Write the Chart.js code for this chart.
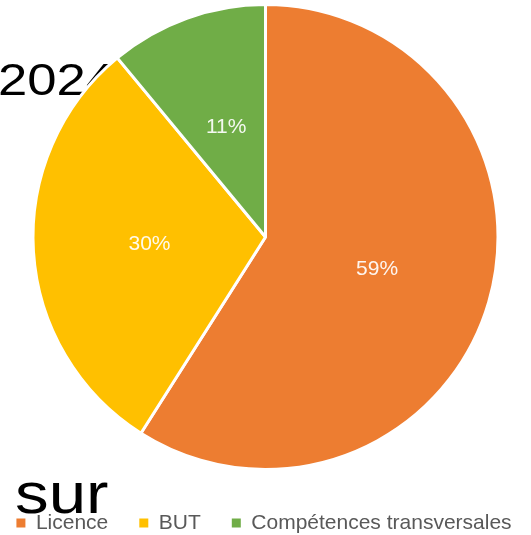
<!DOCTYPE html>
<html>
<head>
<meta charset="utf-8">
<script src="https://cdn.jsdelivr.net/npm/chart.js@4"></script>
<style>
  html, body { margin: 0; padding: 0; background: #fff; }
  #wrap { position: relative; width: 531px; height: 535px; }
</style>
</head>
<body>
<div id="wrap"><canvas id="pieChart" width="531" height="535"></canvas></div>
<script>
const categories = ['Licence', 'BUT', 'Compétences transversales'];
const shares = [59, 30, 11];
const sliceColors = ['#ED7D31', '#FFC000', '#70AD47'];

// slide text that sits around the chart in the screenshot
const backText = { text: '2024', x: -2, y: 95, size: 45, stretch: 1.17 };
const frontText = { text: 'sur', x: 15, y: 513, size: 58, stretch: 1.16 };

function drawStretched(ctx, t) {
    ctx.save();
    ctx.font = t.size + 'px "Liberation Sans"';
    ctx.fillStyle = '#000';
    ctx.textBaseline = 'alphabetic';
    ctx.translate(t.x, t.y);
    ctx.scale(t.stretch, 1);
    ctx.fillText(t.text, 0, 0);
    ctx.restore();
}

const slideText = {
    id: 'slideText',
    beforeDatasetsDraw(chart) { drawStretched(chart.ctx, backText); },
    afterDraw(chart) { drawStretched(chart.ctx, frontText); }
};

const percentLabels = {
    id: 'percentLabels',
    afterDatasetsDraw(chart) {
        const ctx = chart.ctx;
        const meta = chart.getDatasetMeta(0);
        ctx.save();
        ctx.font = '21px "Liberation Sans"';
        ctx.fillStyle = 'rgba(255,255,255,0.92)';
        ctx.textAlign = 'center';
        ctx.textBaseline = 'middle';
        meta.data.forEach((arc, i) => {
            const p = arc.tooltipPosition();
            ctx.fillText(shares[i] + '%', p.x, p.y);
        });
        ctx.restore();
    }
};

const chart = new Chart(document.getElementById('pieChart').getContext('2d'), {
    type: 'pie',
    data: {
        labels: categories,
        datasets: [{
            data: shares,
            backgroundColor: sliceColors,
            borderColor: '#fff',
            borderWidth: 3,
            hoverOffset: 0,
            offset: 0
        }]
    },
    options: {
        responsive: false,
        animation: false,
        layout: { padding: { top: 3, right: -17, left: -20, bottom: 0 } },
        plugins: {
            tooltip: { enabled: false },
            legend: {
                position: 'bottom',
                maxHeight: 64,
                title: { display: true, text: '', padding: 0, font: { size: 10, lineHeight: 1.05 } },
                labels: {
                    boxWidth: 9,
                    boxHeight: 9,
                    padding: 31,
                    color: '#595959',
                    font: { family: '"Liberation Sans"', size: 21 },
                    generateLabels(c) {
                        const items = Chart.overrides.pie.plugins.legend.labels.generateLabels(c);
                        items.forEach(it => { it.lineWidth = 0; it.strokeStyle = 'rgba(0,0,0,0)'; });
                        return items;
                    }
                }
            }
        }
    },
    plugins: [slideText, percentLabels]
});
</script>
</body>
</html>
